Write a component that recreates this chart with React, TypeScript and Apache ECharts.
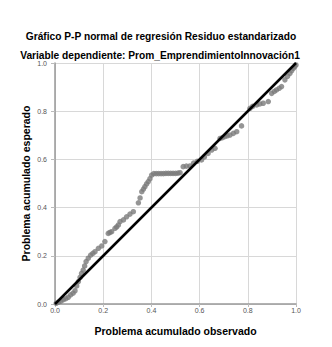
import React, { useEffect, useRef } from "react";
import * as echarts from "echarts";

const titleText = "Gráfico P-P normal de regresión Residuo estandarizado";
const subtitleText = "Variable dependiente: Prom_EmprendimientoInnovación1";
const xAxisName = "Problema acumulado observado";
const yAxisName = "Problema acumulado esperado";

const observed: number[] = [
  0.005, 0.015, 0.025, 0.035, 0.045, 0.055, 0.065, 0.075, 0.083, 0.09,
  0.097, 0.104, 0.11, 0.117, 0.123, 0.129, 0.138, 0.148, 0.157, 0.166,
  0.18, 0.194, 0.207, 0.221, 0.228, 0.235, 0.249, 0.256, 0.263, 0.27,
  0.284, 0.297, 0.311, 0.325, 0.346, 0.353, 0.36, 0.367, 0.373, 0.38,
  0.387, 0.394, 0.401, 0.41, 0.42, 0.43, 0.44, 0.45, 0.46, 0.47,
  0.48, 0.49, 0.5, 0.51, 0.519, 0.532, 0.545, 0.56, 0.575, 0.59,
  0.608, 0.62, 0.635, 0.65, 0.664, 0.685, 0.695, 0.705, 0.715, 0.726,
  0.74, 0.754, 0.774, 0.809, 0.82, 0.837, 0.85, 0.864, 0.885, 0.899,
  0.91, 0.919, 0.93, 0.94, 0.954, 0.965, 0.975, 0.982, 0.989, 0.995, 1.0,
];
const expected: number[] = [
  0.003, 0.008, 0.012, 0.018, 0.022, 0.028, 0.038, 0.045, 0.055, 0.075,
  0.093, 0.11, 0.127, 0.141, 0.158, 0.176, 0.19, 0.203, 0.21, 0.217,
  0.231, 0.241, 0.259, 0.293, 0.297, 0.3, 0.314, 0.32, 0.328, 0.342,
  0.349, 0.362, 0.373, 0.383, 0.42, 0.44, 0.466, 0.477, 0.487, 0.498,
  0.508, 0.52, 0.535, 0.541, 0.541, 0.541, 0.541, 0.541, 0.542, 0.542,
  0.542, 0.542, 0.542, 0.543, 0.545, 0.57, 0.572, 0.573, 0.585, 0.592,
  0.598, 0.61, 0.625, 0.639, 0.646, 0.687, 0.69, 0.695, 0.698, 0.701,
  0.708, 0.715, 0.739, 0.812, 0.82, 0.826, 0.83, 0.833, 0.84, 0.874,
  0.882, 0.888, 0.895, 0.902, 0.93, 0.945, 0.957, 0.968, 0.978, 0.985, 0.992,
];
const refLineX: number[] = [0, 1];
const refLineY: number[] = [0, 1];

const FONT = "'Liberation Sans', Arial, sans-serif";

export default function App() {
  const ref = useRef<HTMLDivElement>(null);
  useEffect(() => {
    if (!ref.current) return;
    const chart = echarts.init(ref.current, null, { renderer: "svg" });
    const points = observed.map((x, i) => [x, expected[i]]);
    const line = refLineX.map((x, i) => [x, refLineY[i]]);
    chart.setOption({
      animation: false,
      backgroundColor: "#ffffff",
      title: [
        {
          text: titleText,
          left: 156,
          textAlign: "center",
          top: 25,
          textStyle: { fontFamily: FONT, fontSize: 10.2, lineHeight: 12, fontWeight: "bold", color: "#000" },
        },
        {
          text: subtitleText,
          left: 155,
          textAlign: "center",
          top: 44,
          textStyle: { fontFamily: FONT, fontSize: 10.2, lineHeight: 12, fontWeight: "bold", color: "#000" },
        },
      ],
      grid: { left: 55, top: 63, width: 241, height: 241, containLabel: false },
      xAxis: {
        type: "value",
        min: 0,
        max: 1,
        interval: 0.2,
        name: xAxisName,
        nameLocation: "middle",
        nameGap: 21,
        nameMoveOverlap: false,
        nameTextStyle: { fontFamily: FONT, fontSize: 10.5, fontWeight: "bold", color: "#000" },
        axisLine: { show: true, lineStyle: { color: "#999", width: 1.5 } },
        axisTick: { show: true, length: 3, lineStyle: { color: "#bbb" } },
        axisLabel: {
          fontFamily: FONT,
          fontSize: 7,
          color: "#555",
          margin: 3,
          formatter: (v: number) => v.toFixed(1),
        },
        splitLine: { show: true, lineStyle: { color: "#d8d8d8", width: 1 } },
      },
      yAxis: {
        type: "value",
        min: 0,
        max: 1,
        interval: 0.2,
        name: yAxisName,
        nameLocation: "middle",
        nameGap: 24,
        nameMoveOverlap: false,
        nameTextStyle: { fontFamily: FONT, fontSize: 10.5, fontWeight: "bold", color: "#000" },
        axisLine: { show: true, lineStyle: { color: "#999", width: 1.5 } },
        axisTick: { show: true, length: 4, lineStyle: { color: "#bbb" } },
        axisLabel: {
          fontFamily: FONT,
          fontSize: 7,
          color: "#555",
          margin: 8,
          formatter: (v: number) => v.toFixed(1),
        },
        splitLine: { show: true, lineStyle: { color: "#d8d8d8", width: 1 } },
      },
      series: [
        {
          type: "scatter",
          data: points,
          symbolSize: 5.5,
          itemStyle: { color: "#7a7a7a" },
          z: 2,
        },
        {
          type: "line",
          data: line,
          symbol: "none",
          lineStyle: { color: "#000", width: 2.5 },
          z: 3,
        },
      ],
    });
    return () => chart.dispose();
  }, []);
  return (
    <div
      ref={ref}
      style={{ position: "fixed", left: 0, top: 0, width: 332, height: 347, background: "#fff" }}
    />
  );
}
